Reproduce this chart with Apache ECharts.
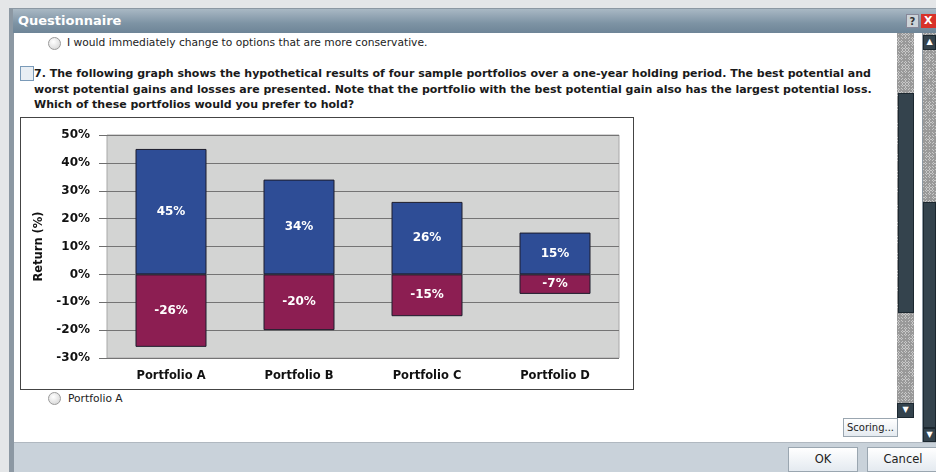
<!DOCTYPE html>
<html><head><meta charset="utf-8">
<script src="https://cdn.jsdelivr.net/npm/echarts@6/dist/echarts.min.js"></script>
<style>
html,body{margin:0;padding:0;width:936px;height:472px;overflow:hidden;background:#e4e6e8;font-family:"DejaVu Sans",Verdana,sans-serif;}
.abs{position:absolute;}
#frame{left:9px;top:8px;width:940px;height:470px;background:#8c98a3;}
#title{left:13px;top:9px;width:930px;height:24px;background:linear-gradient(#a9b8c4,#7d93a4 60%,#6e8597);color:#fff;font-weight:bold;font-size:13px;line-height:24px;padding-left:5px;box-sizing:border-box;}
#body{left:14px;top:33px;width:908px;height:409px;background:#fff;}
#footer{left:14px;top:442px;width:930px;height:30px;background:#c9d2da;border-top:1px solid #b0b8c0;}
.radio{width:11px;height:11px;border-radius:50%;border:1px solid #9a9a9a;background:radial-gradient(circle at 40% 35%,#fff,#d0d0d0);}
.txt{font-size:10.7px;color:#222;white-space:nowrap;}
#q{left:34px;top:66px;font-weight:bold;font-size:11px;color:#1a1a1a;line-height:15.5px;white-space:nowrap;}
#cb{left:20px;top:66px;width:12px;height:13px;border:1px solid #7a9ab8;background:#e8eef4;}
#chartbox{left:20px;top:117px;width:612px;height:271px;border:1px solid #444;background:#fff;}
#chart{left:21px;top:118px;width:612px;height:271px;}
.btn{border:1px solid #9aa6b0;background:linear-gradient(#fff,#e4eaf0);font-size:11.5px;color:#222;text-align:center;box-sizing:border-box;white-space:nowrap;}
.track{background-color:#c8c8c8;background-image:repeating-linear-gradient(45deg,#999 0 1px,transparent 1px 2px),repeating-linear-gradient(-45deg,#999 0 1px,transparent 1px 2px);}
.thumb{background:#34434d;border:1px solid #1c2830;box-sizing:border-box;}
.arrow{background:#34434d;border:1px solid #1c2830;box-sizing:border-box;color:#fff;font-size:8px;text-align:center;line-height:12px;}
</style></head><body>
<div class="abs" id="frame"></div>
<div class="abs" id="title">Questionnaire</div>
<div class="abs" style="left:906px;top:14px;width:13px;height:14px;background:#ccd3d8;border:1px solid #889;font-size:10px;font-weight:bold;color:#333;text-align:center;line-height:14px;box-sizing:border-box;">?</div>
<div class="abs" style="left:921px;top:14px;width:15px;height:14px;background:#d8322a;color:#fff;font-size:11px;font-weight:bold;line-height:14px;padding-left:3px;box-sizing:border-box;">X</div>
<div class="abs" id="body"></div>
<div class="abs" id="footer"></div>

<div class="abs radio" style="left:48px;top:37px;"></div>
<div class="abs txt" style="left:67px;top:36px;">I would immediately change to options that are more conservative.</div>

<div class="abs" id="cb"></div>
<div class="abs" id="q">7. The following graph shows the hypothetical results of four sample portfolios over a one-year holding period. The best potential and<br>worst potential gains and losses are presented. Note that the portfolio with the best potential gain also has the largest potential loss.<br>Which of these portfolios would you prefer to hold?</div>

<div class="abs" id="chartbox"></div>
<div class="abs" id="chart"></div>

<div class="abs radio" style="left:48px;top:392px;"></div>
<div class="abs txt" style="left:68px;top:392px;">Portfolio A</div>

<!-- inner scrollbar -->
<div class="abs track" style="left:897px;top:33px;width:17px;height:384px;"></div>
<div class="abs thumb" style="left:898px;top:93px;width:16px;height:220px;"></div>
<div class="abs arrow" style="left:897px;top:403px;width:17px;height:15px;">&#9660;</div>
<!-- outer scrollbar -->
<div class="abs track" style="left:923px;top:33px;width:13px;height:409px;"></div>
<div class="abs arrow" style="left:923px;top:35px;width:13px;height:15px;">&#9650;</div>
<div class="abs thumb" style="left:923px;top:202px;width:13px;height:226px;"></div>
<div class="abs arrow" style="left:923px;top:428px;width:13px;height:14px;">&#9660;</div>

<div class="abs btn" style="left:843px;top:418px;width:55px;height:19px;line-height:17px;font-size:10px;">Scoring...</div>
<div class="abs btn" style="left:788px;top:447px;width:70px;height:25px;line-height:23px;">OK</div>
<div class="abs btn" style="left:867px;top:447px;width:72px;height:25px;line-height:23px;">Cancel</div>

<script>
const categories = ['Portfolio A', 'Portfolio B', 'Portfolio C', 'Portfolio D'];
const bestGain = [45, 34, 26, 15];
const worstLoss = [-26, -20, -15, -7];
const yTicks = { min: -30, max: 50, interval: 10 };

const chart = echarts.init(document.getElementById('chart'), null, { renderer: 'canvas' });
const labelStyle = {
  show: true, position: 'inside', color: '#fff', fontWeight: 'bold',
  fontSize: 12, fontFamily: 'DejaVu Sans', formatter: p => p.value + '%'
};
chart.setOption({
  animation: false,
  grid: { left: 86, right: 14, top: 17, bottom: 31, show: true, backgroundColor: '#d3d4d3', borderColor: '#a8a8a8', borderWidth: 1 },
  xAxis: {
    type: 'category', data: categories,
    axisLine: { show: false }, axisTick: { show: false },
    axisLabel: { color: '#111', fontWeight: 'bold', fontSize: 11.5, fontFamily: 'DejaVu Sans', margin: 12 }
  },
  yAxis: {
    type: 'value', min: yTicks.min, max: yTicks.max, interval: yTicks.interval,
    name: 'Return (%)', nameLocation: 'middle', nameGap: 61, nameRotate: 90,
    nameTextStyle: { color: '#111', fontWeight: 'bold', fontSize: 11.5, fontFamily: 'DejaVu Sans' },
    axisLine: { show: false },
    axisTick: { show: true, length: 8, lineStyle: { color: '#6f6f6f' } },
    splitLine: { show: true, lineStyle: { color: '#747474', width: 1 } },
    axisLabel: { color: '#111', fontWeight: 'bold', fontSize: 12, fontFamily: 'DejaVu Sans', margin: 17, formatter: v => v + '%' }
  },
  series: [
    { name: 'Best', type: 'bar', stack: 'r', data: bestGain, barWidth: 71,
      itemStyle: { color: '#2e4d96', borderColor: '#1c1c2c', borderWidth: 1 }, label: labelStyle },
    { name: 'Worst', type: 'bar', stack: 'r', data: worstLoss, barWidth: 71,
      itemStyle: { color: '#8c1e52', borderColor: '#1c1c2c', borderWidth: 1 }, label: labelStyle }
  ]
});
</script>
</body></html>
